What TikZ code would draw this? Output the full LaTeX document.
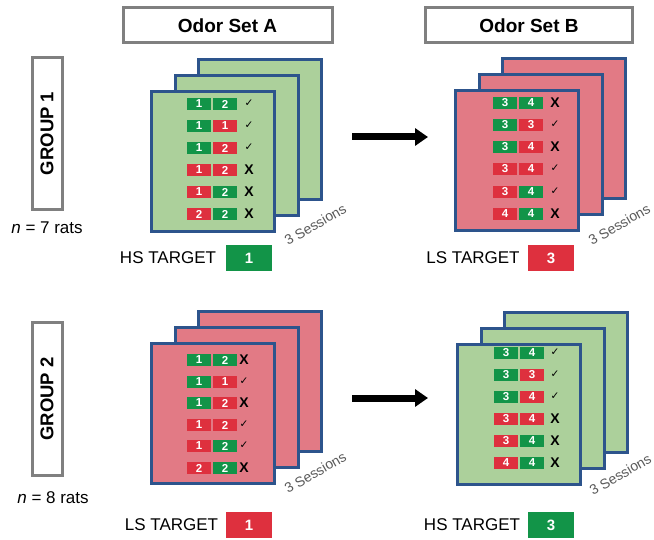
\documentclass[tikz,border=0pt]{standalone}
\usepackage{fontspec}
\setmainfont{Liberation Sans}
\newfontfamily\dejavu{DejaVu Sans}
\usetikzlibrary{arrows.meta}
\definecolor{cardgreen}{RGB}{172,208,155}
\definecolor{cardred}{RGB}{226,122,133}
\definecolor{cellgreen}{RGB}{18,148,72}
\definecolor{cellred}{RGB}{222,48,62}
\definecolor{cardblue}{RGB}{45,84,140}
\definecolor{framegray}{RGB}{128,128,128}
\definecolor{sessgray}{RGB}{90,90,90}
\tikzset{
  card/.style={draw=cardblue, line width=3pt, minimum width=123pt, minimum height=140pt, inner sep=0pt, anchor=north west},
  cell/.style={minimum width=24pt, minimum height=12.5pt, inner sep=0pt, text=white, font=\fontsize{11.5}{11.5}\selectfont\bfseries},
  markst/.style={inner sep=0pt, font=\fontsize{14}{14}\selectfont\bfseries},
  header/.style={draw=framegray, line width=3pt, minimum height=35pt, inner sep=0pt, font=\fontsize{19}{19}\selectfont\bfseries},
  groupbox/.style={draw=framegray, line width=3pt, minimum width=152pt, minimum height=30pt, inner sep=0pt, rotate=90, font=\fontsize{18.5}{18.5}\selectfont\bfseries},
  nlabel/.style={inner sep=0pt, font=\fontsize{17}{17}\selectfont},
  tlabel/.style={inner sep=0pt, font=\fontsize{17}{17}\selectfont},
  tbox/.style={minimum width=46pt, minimum height=26pt, inner sep=0pt, text=white, font=\fontsize{15}{15}\selectfont\bfseries},
  sess/.style={inner sep=0pt, text=sessgray, font=\fontsize{14}{14}\selectfont, anchor=base west, rotate=30},
  bigarrow/.style={line width=7pt, -{Triangle[length=13pt,width=17pt]}}
}
\newcommand\chkmk{\raisebox{2pt}{\dejavu\fontsize{10.5}{10.5}\selectfont ✓}}
\newcommand\xmk{X}
\def\mko{62}
\newcommand\cardstack[4]{%
  \node[card,fill=#4] (#1c3) at (#2+47,#3-32) {};
  \node[card,fill=#4] (#1c2) at (#2+23.5,#3-16) {};
  \node[card,fill=#4] (#1c1) at (#2,#3) {};
}
\newcommand\crow[8]{%
  \node[cell,fill=#4] (#1l) at (#2+12,#3) {#5};
  \node[cell,fill=#6] (#1r) at (#2+38,#3) {#7};
  \node[markst] (#1m) at (#2+\mko,#3) {#8};
}
\begin{document}
\begin{tikzpicture}[x=1pt,y=-1pt]
\useasboundingbox (0,0) rectangle (654,540);

% headers
\node[header, minimum width=209pt] (hA) at (227.5,25.5) {Odor Set A};
\node[header, minimum width=207pt] (hB) at (529,25.5) {Odor Set B};

% groups
\node[groupbox] (g1) at (47,133.5) {GROUP 1};
\node[nlabel] (n1) at (47,228) {\textit{n} = 7 rats};
\node[groupbox] (g2) at (47,399) {GROUP 2};
\node[nlabel] (n2) at (53,498) {\textit{n} = 8 rats};

% ---- Group 1, set A
\cardstack{pa}{150}{90}{cardgreen}
\def\mko{62}
\crow{pa1}{187}{104}{cellgreen}{1}{cellgreen}{2}{\chkmk}
\crow{pa2}{187}{126}{cellgreen}{1}{cellred}{1}{\chkmk}
\crow{pa3}{187}{148}{cellgreen}{1}{cellred}{2}{\chkmk}
\crow{pa4}{187}{170}{cellred}{1}{cellred}{2}{\xmk}
\crow{pa5}{187}{192}{cellred}{1}{cellgreen}{2}{\xmk}
\crow{pa6}{187}{214}{cellred}{2}{cellgreen}{2}{\xmk}
\node[sess] (sa) at (288,246) {3 Sessions};
\node[tlabel] (ta) at (168,258) {HS TARGET};
\node[tbox,fill=cellgreen] (tba) at (249,258) {1};

% ---- Group 1, set B
\cardstack{pb}{454}{89}{cardred}
\def\mko{62}
\crow{pb1}{493}{103}{cellgreen}{3}{cellgreen}{4}{\xmk}
\crow{pb2}{493}{125}{cellgreen}{3}{cellred}{3}{\chkmk}
\crow{pb3}{493}{147}{cellgreen}{3}{cellred}{4}{\xmk}
\crow{pb4}{493}{169}{cellred}{3}{cellred}{4}{\chkmk}
\crow{pb5}{493}{192}{cellred}{3}{cellgreen}{4}{\chkmk}
\crow{pb6}{493}{214}{cellred}{4}{cellgreen}{4}{\xmk}
\node[sess] (sb) at (592,246) {3 Sessions};
\node[tlabel] (tb) at (473,258) {LS TARGET};
\node[tbox,fill=cellred] (tbb) at (551,258) {3};

% ---- Group 2, set A
\cardstack{qa}{150}{342}{cardred}
\def\mko{57}
\crow{qa1}{187}{360}{cellgreen}{1}{cellgreen}{2}{\xmk}
\crow{qa2}{187}{382}{cellgreen}{1}{cellred}{1}{\chkmk}
\crow{qa3}{187}{403}{cellgreen}{1}{cellred}{2}{\xmk}
\crow{qa4}{187}{425}{cellred}{1}{cellred}{2}{\chkmk}
\crow{qa5}{187}{446}{cellred}{1}{cellgreen}{2}{\chkmk}
\crow{qa6}{187}{468}{cellred}{2}{cellgreen}{2}{\xmk}
\node[sess] (sc) at (288,494) {3 Sessions};
\node[tlabel] (tc) at (171.5,525) {LS TARGET};
\node[tbox,fill=cellred] (tbc) at (249,525) {1};

% ---- Group 2, set B
\cardstack{qb}{456}{343}{cardgreen}
\def\mko{61}
\crow{qb1}{494}{353}{cellgreen}{3}{cellgreen}{4}{\chkmk}
\crow{qb2}{494}{375}{cellgreen}{3}{cellred}{3}{\chkmk}
\crow{qb3}{494}{397}{cellgreen}{3}{cellred}{4}{\chkmk}
\crow{qb4}{494}{419}{cellred}{3}{cellred}{4}{\xmk}
\crow{qb5}{494}{441}{cellred}{3}{cellgreen}{4}{\xmk}
\crow{qb6}{494}{463}{cellred}{4}{cellgreen}{4}{\xmk}
\node[sess] (sd) at (593,496) {3 Sessions};
\node[tlabel] (td) at (472,525) {HS TARGET};
\node[tbox,fill=cellgreen] (tbd) at (551,525) {3};

% arrows
\coordinate (a1s) at (352,137);
\coordinate (a1e) at (428,137);
\draw[bigarrow] (a1s) -- (a1e);
\coordinate (a2s) at (352,398);
\coordinate (a2e) at (428,398);
\draw[bigarrow] (a2s) -- (a2e);
\end{tikzpicture}
\end{document}
